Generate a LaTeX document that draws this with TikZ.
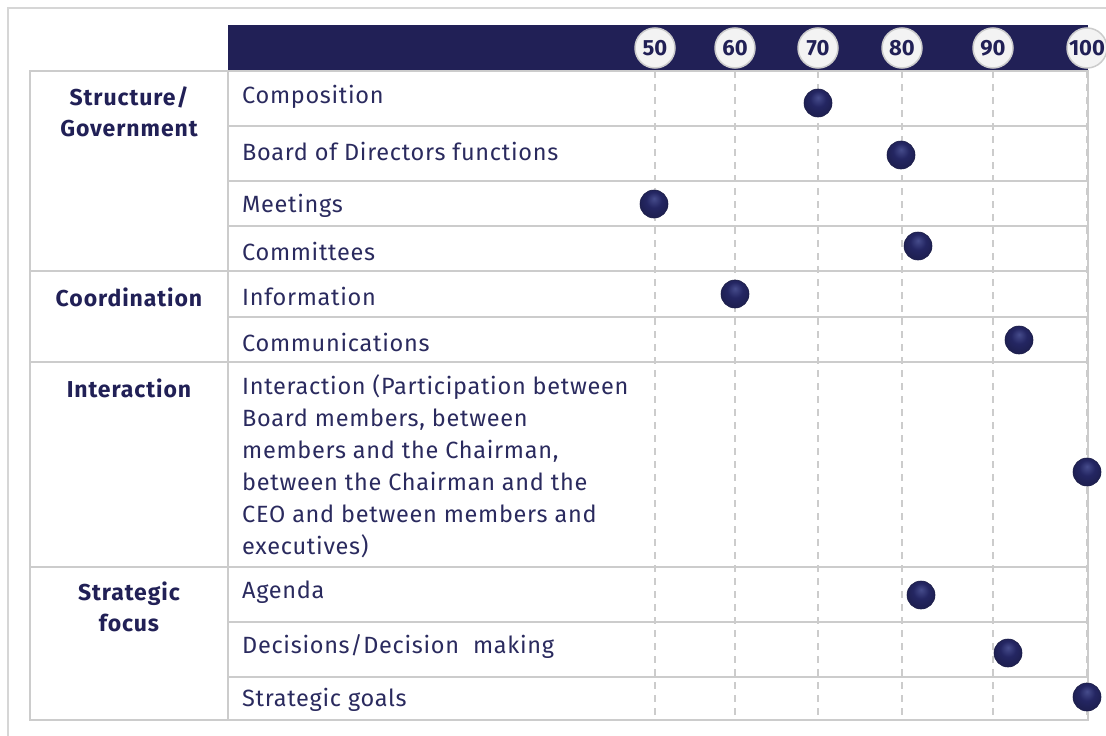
\documentclass[tikz,border=0pt]{standalone}
\usepackage{fontspec}
\setmainfont{Fira Sans}
\definecolor{navy}{RGB}{33,32,86}
\definecolor{dotnavy}{RGB}{36,38,98}
\definecolor{dotlight}{RGB}{70,76,140}
\definecolor{inktext}{RGB}{42,42,94}
\definecolor{rulegray}{RGB}{204,204,204}
\definecolor{tickfill}{RGB}{243,243,243}
\pgfdeclareradialshading{dotshade}{\pgfpoint{0bp}{10bp}}{color(0bp)=(dotlight); color(14bp)=(dotnavy); color(25bp)=(dotnavy!85!black); color(50bp)=(dotnavy!85!black)}

\tikzset{
  rowtext/.style={anchor=west, inner sep=0pt, text=inktext, font=\fontsize{23.5}{32}\selectfont\addfontfeatures{LetterSpace=3}},
  grouptext/.style={align=center, inner sep=0pt, text=navy, font=\fontsize{23}{31}\selectfont\bfseries\addfontfeatures{LetterSpace=4}},
  tickmark/.style={circle, minimum size=40pt, inner sep=0pt, fill=tickfill, draw=rulegray, line width=1.5pt, text=navy, font=\fontsize{22}{22}\selectfont\bfseries},
  score/.style={circle, minimum size=28pt, inner sep=0pt, shading=dotshade, draw=dotnavy!70!black, line width=0.6pt},
  gridline/.style={rulegray, line width=1.8pt},
  guide/.style={rulegray, line width=1.3pt, dash pattern=on 7pt off 6pt}
}

\begin{document}
\begin{tikzpicture}[x=1pt,y=-1pt]
	\useasboundingbox (0,0) rectangle (1106,736);
	% outer frame
	\draw[rulegray!80, line width=1.5pt] (8,736) -- (8,8) -- (1106,8);
	% header bar
	\fill[navy] (228,25) rectangle (1088,71);

	% guides
	\foreach \x in {655,735,818,902,993,1087}
		\draw[guide] (\x,71) -- (\x,720);

	% table rules
	\draw[gridline] (30,71) rectangle (1088,720);
	\draw[gridline] (228,71) -- (228,720);
	\foreach \y in {126,181,226,317,622,677}
		\draw[gridline] (228,\y) -- (1088,\y);
	\foreach \y in {271,362,567}
		\draw[gridline] (30,\y) -- (1088,\y);

	% scale
	\foreach \v/\x in {50/655,60/735,70/818,80/902,90/993,100/1087}
		\node[tickmark] (t\v) at (\x,48) {\v};

	% groups
	\node[grouptext, anchor=north] (gstruct) at (129,87) {Structure/\\Government};
	\node[grouptext] (gcoord) at (129,297) {Coordination};
	\node[grouptext] (ginter) at (129,388) {Interaction};
	\node[grouptext, anchor=north] (gstrat) at (129,582) {Strategic\\focus};

	% items
	\node[rowtext] (comp) at (242,97) {Composition};
	\node[rowtext] (board) at (242,151) {Board of Directors functions};
	\node[rowtext] (meet) at (242,206) {Meetings};
	\node[rowtext] (commit) at (242,251) {Committees};
	\node[rowtext] (info) at (242,296) {Information};
	\node[rowtext] (commun) at (242,342) {Communications};
	\node[rowtext, align=left, anchor=north west] (inter) at (242,374) {Interaction (Participation between\\Board members, between\\members and the Chairman,\\between the Chairman and the\\CEO and between members and\\executives)};
	\node[rowtext] (agenda) at (242,592) {Agenda};
	\node[rowtext] (decis) at (242,647) {Decisions/Decision\ \ making};
	\node[rowtext] (goals) at (242,700) {Strategic goals};

	% scores
	\node[score] (scomp) at (818,103) {};
	\node[score] (sboard) at (901,155) {};
	\node[score] (smeet) at (654,204) {};
	\node[score] (scommit) at (918,246) {};
	\node[score] (sinfo) at (735,294) {};
	\node[score] (scommun) at (1019,340) {};
	\node[score] (sinter) at (1087,472) {};
	\node[score] (sagenda) at (921,595) {};
	\node[score] (sdecis) at (1008,653) {};
	\node[score] (sgoals) at (1087,697) {};
\end{tikzpicture}
\end{document}
